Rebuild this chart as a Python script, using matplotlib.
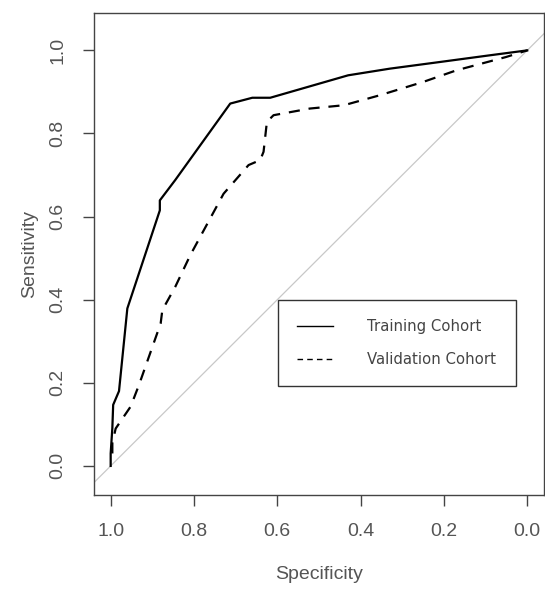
import matplotlib.pyplot as plt
from matplotlib.lines import Line2D

# ROC points (specificity, sensitivity)
train_spec = [1.0, 1.0, 0.996, 0.994, 0.98, 0.96, 0.882, 0.882, 0.845, 0.713,
              0.66, 0.617, 0.43, 0.33, 0.21, 0.091, 0.0]
train_sens = [0.0, 0.03, 0.091, 0.147, 0.18, 0.379, 0.615, 0.639, 0.688, 0.872,
              0.886, 0.886, 0.94, 0.956, 0.972, 0.988, 1.0]

valid_spec = [0.996, 0.996, 0.988, 0.952, 0.932, 0.88, 0.876, 0.845, 0.809, 0.729,
              0.669, 0.641, 0.633, 0.625, 0.609, 0.522, 0.44, 0.354, 0.25, 0.17,
              0.051, 0.0]
valid_sens = [0.03, 0.055, 0.09, 0.143, 0.195, 0.343, 0.375, 0.431, 0.507, 0.655,
              0.724, 0.736, 0.756, 0.828, 0.844, 0.86, 0.868, 0.892, 0.924, 0.952,
              0.984, 1.0]

ticks = [1.0, 0.8, 0.6, 0.4, 0.2, 0.0]
labels = ['Training Cohort', 'Validation Cohort']

txt_color = '#555555'
plt.rcParams['font.family'] = ['Liberation Sans', 'DejaVu Sans']

fig = plt.figure(figsize=(5.45, 5.9), dpi=100)
ax = fig.add_axes([0.1725, 0.161, 0.8255, 0.817])

ax.axline((1, 0), (0, 1), color='#c8c8c8', lw=0.9, zorder=1)
ax.plot(train_spec, train_sens, color='black', lw=1.6, zorder=3)
ax.plot(valid_spec, valid_sens, color='black', lw=1.6, dashes=(5, 4), zorder=3)

ax.set_xlim(1.04, -0.04)
ax.set_ylim(-0.07, 1.09)
ax.set_xticks(ticks)
ax.set_yticks(ticks)
ax.set_xticklabels([f'{t:.1f}' for t in ticks])
ax.set_yticklabels([f'{t:.1f}' for t in ticks], rotation=90, va='center')
ax.tick_params(length=8, width=1, color='#444444', labelcolor=txt_color,
               labelsize=14, pad=12)

for sp in ax.spines.values():
    sp.set_color('#444444')
    sp.set_linewidth(1)

ax.set_xlabel('Specificity', fontsize=14, color=txt_color)
ax.set_ylabel('Sensitivity', fontsize=14, color=txt_color)
ax.xaxis.set_label_coords(0.5, -0.148)
ax.yaxis.set_label_coords(-0.125, 0.5)

handles = [Line2D([], [], color='black', lw=1),
           Line2D([], [], color='black', lw=1, dashes=(4, 3))]
leg = ax.legend(handles, labels, loc='upper left', bbox_to_anchor=(0.409, 0.4046),
                prop={'family': 'DejaVu Sans', 'size': 10.7}, fancybox=False,
                edgecolor='#333333', framealpha=1, borderpad=1.3,
                labelspacing=1.2, handlelength=2.42, handletextpad=2.28,
                borderaxespad=0)
leg.get_frame().set_linewidth(1)
for t in leg.get_texts():
    t.set_color('#444444')

fig.savefig('out.png', dpi=100)
